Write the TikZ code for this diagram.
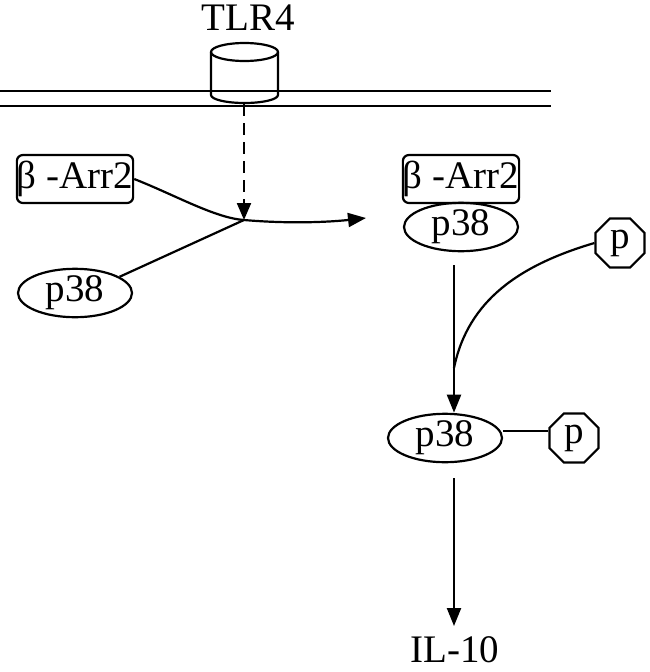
\documentclass[tikz,border=0pt]{standalone}
\usepackage{fontspec}
\setmainfont{Liberation Serif}
\usetikzlibrary{shapes.geometric,arrows.meta}
\begin{document}
\begin{tikzpicture}[x=1pt,y=-1pt,line width=2.2pt,
  every node/.style={font=\fontsize{39}{41}\selectfont, inner sep=0pt},
  arrbox/.style={draw, rounded corners=6pt, minimum width=114pt, minimum height=48pt},
  prot/.style={draw, ellipse, minimum width=114pt, minimum height=47pt},
  phos/.style={draw, regular polygon, regular polygon sides=8, minimum size=53pt},
  tip/.style={-{Triangle[width=14pt,length=18pt]}}]
\useasboundingbox (0,0) rectangle (650,672);
% membrane
\coordinate (mL1) at (0,91); \coordinate (mR1) at (551,91);
\coordinate (mL2) at (0,106); \coordinate (mR2) at (551,106);
\draw (mL1) -- (mR1);
\draw (mL2) -- (mR2);
% TLR4 receptor
\node[anchor=base] (tlr4) at (248,30) {TLR4};
\draw (211,52) -- (211,95) arc[start angle=180,end angle=360,x radius=33.5pt,y radius=8pt] -- (278,52);
\draw (244.5,52) ellipse [x radius=33.5pt, y radius=9pt];
\coordinate (tlrb) at (244,104);
% left complex parts
\node[arrbox] (arrL) at (75,179) {β -Arr2};
\node[prot] (p38L) at (75,293) {p38};
\coordinate (j) at (244,220);
\coordinate (aend) at (366,218);
\draw[dashed, dash pattern=on 12pt off 7pt, -{Triangle[width=14pt,length=17pt]}] (tlrb) -- (j);
\draw (arrL.east) .. controls (175,195) and (215,218) .. (j);
\draw (p38L.20) -- (j);
\draw[tip] (j) .. controls (290,224) and (330,222) .. (aend);
% right complex
\node[arrbox] (arrR) at (461,179) {β -Arr2};
\node[prot, minimum height=44pt] (p38R) at (461,227) {p38};
\node[phos] (pa) at (620,243) {p};
% phosphorylation
\coordinate (v1) at (454,265);
\coordinate (jj) at (454,368);
\node[prot] (p38P) at (445,438) {p38};
\node[phos] (pb) at (574,438) {p};
\draw[tip] (v1) -- (p38P.north -| v1);
\draw (pa.west) .. controls (520,265) and (468,300) .. (jj);
\draw (p38P.east |- 0,431) -- (pb.west |- 0,431);
% IL-10
\coordinate (v2) at (454,478);
\node[anchor=base] (il10) at (455,662) {IL-10};
\draw[tip] (v2) -- (454,626);
\end{tikzpicture}
\end{document}
